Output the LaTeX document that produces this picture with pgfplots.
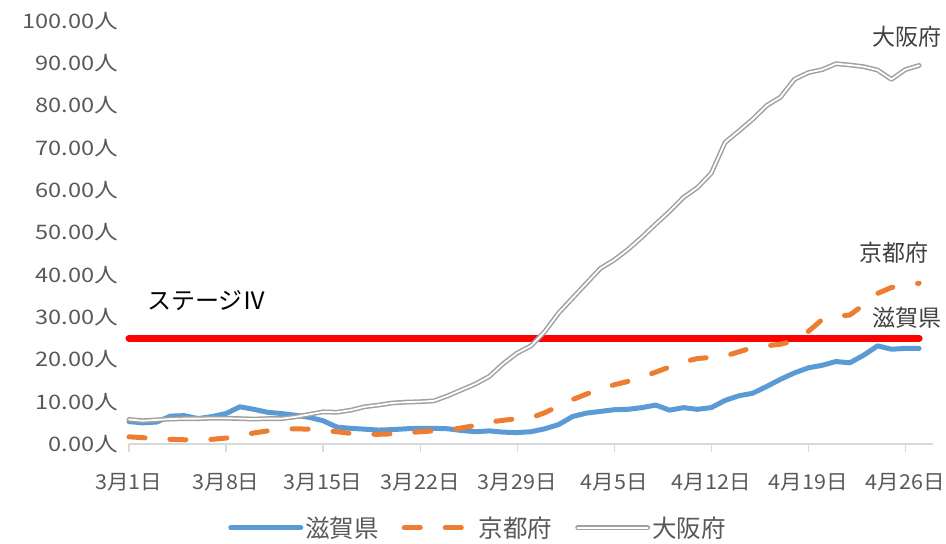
\documentclass[border=0pt]{standalone}
\usepackage{pgfplots}
\pgfplotsset{compat=1.18}
\usepackage{fontspec}
\setmainfont{Noto Sans CJK JP}
\newfontfamily\ytickfont[FakeStretch=1.18]{Noto Sans CJK JP}
\newfontfamily\xtickfont[FakeStretch=1.05]{Noto Sans CJK JP}
\definecolor{sblue}{HTML}{5B9BD5}
\definecolor{korange}{HTML}{ED7D31}
\definecolor{ogray}{HTML}{A0A0A0}
\definecolor{axgray}{HTML}{D9D9D9}
\definecolor{txgray}{HTML}{595959}
\definecolor{lbgray}{HTML}{404040}
\begin{document}
\begin{tikzpicture}
\useasboundingbox (-129bp,-100bp) rectangle (817bp,444bp);
\begin{axis}[
    scale only axis,
    width=804bp, height=423bp,
    xmin=0, xmax=58,
    ymin=0, ymax=100,
    clip=false,
    axis x line*=bottom,
    axis y line*=left,
    y axis line style={draw=none},
    x axis line style={draw=axgray, line width=1.2bp},
    xtick={0,7,14,21,28,35,42,49,56},
    xticklabels={3月1日,3月8日,3月15日,3月22日,3月29日,4月5日,4月12日,4月19日,4月26日},
    ytick={0,10,20,30,40,50,60,70,80,90,100},
    yticklabels={0.00人,10.00人,20.00人,30.00人,40.00人,50.00人,60.00人,70.00人,80.00人,90.00人,100.00人},
    tick align=outside,
    major tick length=8bp,
    xtick style={draw=axgray, line width=1.2bp},
    ytick style={draw=none},
    yticklabel style={font=\ytickfont\fontsize{20bp}{22bp}\selectfont, text=txgray,
        inner sep=0pt, xshift=-3bp},
    xticklabel style={font=\xtickfont\fontsize{20.5bp}{22bp}\selectfont, text=txgray,
        inner sep=0pt, yshift=-21bp},
    legend columns=3,
    legend style={at={(0.434,-0.198)}, anchor=center, draw=none,
        font=\fontsize{24.5bp}{27bp}\selectfont, text=txgray,
        /tikz/every even column/.append style={column sep=21bp}},
    legend image code/.code={\draw[#1] (0bp,0bp) -- (70bp,0bp);},
]
% stage IV level
\addplot[forget plot, color=red, line width=7bp, line cap=round]
    coordinates {(0,25) (57,25)};
% Shiga
\addplot[color=sblue, line width=5bp, line cap=round, line join=round]
    coordinates {
    (0,5.3)(1,5.0)(2,5.2)(3,6.6)(4,6.7)(5,6.0)(6,6.5)(7,7.2)(8,8.8)(9,8.2)
    (10,7.5)(11,7.2)(12,6.8)(13,6.3)(14,5.5)(15,4.0)(16,3.7)(17,3.5)(18,3.3)(19,3.4)
    (20,3.6)(21,3.7)(22,3.7)(23,3.6)(24,3.2)(25,2.9)(26,3.1)(27,2.8)(28,2.7)(29,2.9)
    (30,3.6)(31,4.6)(32,6.5)(33,7.3)(34,7.7)(35,8.1)(36,8.2)(37,8.6)(38,9.2)(39,8.0)
    (40,8.6)(41,8.2)(42,8.6)(43,10.3)(44,11.4)(45,12.0)(46,13.6)(47,15.3)(48,16.8)(49,18.0)
    (50,18.6)(51,19.5)(52,19.2)(53,21.0)(54,23.2)(55,22.4)(56,22.6)(57,22.6)
    };
% Kyoto
\addplot[color=korange, line width=5bp, line cap=round, line join=round,
    dash pattern=on 16bp off 25bp]
    coordinates {
    (0,1.7)(1,1.5)(2,1.2)(3,1.1)(4,1.0)(5,1.0)(6,1.1)(7,1.4)(8,2.0)(9,2.6)
    (10,3.1)(11,3.4)(12,3.6)(13,3.5)(14,3.2)(15,2.9)(16,2.5)(17,2.3)(18,2.3)(19,2.4)
    (20,2.6)(21,2.9)(22,3.1)(23,3.3)(24,3.8)(25,4.4)(26,5.2)(27,5.6)(28,6.0)(29,6.2)
    (30,7.4)(31,9.0)(32,10.5)(33,11.8)(34,13.0)(35,14.0)(36,14.8)(37,15.8)(38,17.0)(39,18.2)
    (40,19.4)(41,20.2)(42,20.5)(43,20.8)(44,21.8)(45,22.8)(46,23.2)(47,23.6)(48,24.4)(49,26.6)
    (50,29.4)(51,30.2)(52,30.5)(53,32.9)(54,35.6)(55,37.0)(56,37.6)(57,38.0)
    };
% Osaka
\addplot[draw=ogray, line width=1.5bp, double=white, double distance=1.8bp,
    line cap=round, line join=round]
    coordinates {
    (0,5.8)(1,5.5)(2,5.7)(3,5.9)(4,6.0)(5,6.0)(6,6.1)(7,6.1)(8,6.0)(9,5.9)
    (10,6.0)(11,6.0)(12,6.4)(13,7.0)(14,7.6)(15,7.5)(16,8.0)(17,8.8)(18,9.2)(19,9.7)
    (20,9.9)(21,10.0)(22,10.2)(23,11.4)(24,12.8)(25,14.2)(26,16.0)(27,19.0)(28,21.5)(29,23.2)
    (30,26.6)(31,31.0)(32,34.5)(33,38.0)(34,41.5)(35,43.5)(36,46.0)(37,48.9)(38,52.0)(39,55.0)
    (40,58.3)(41,60.6)(42,64.0)(43,71.3)(44,74.0)(45,76.8)(46,80.0)(47,82.0)(48,86.2)(49,87.8)
    (50,88.5)(51,89.9)(52,89.6)(53,89.2)(54,88.4)(55,86.2)(56,88.5)(57,89.5)
    };
\legend{滋賀県,京都府,大阪府}
\node[text=lbgray, font=\fontsize{23bp}{26bp}\selectfont] at (axis cs:56.1,96.2) {大阪府};
\node[text=lbgray, font=\fontsize{23bp}{26bp}\selectfont] at (axis cs:55.2,45.2) {京都府};
\node[text=lbgray, font=\fontsize{23bp}{26bp}\selectfont] at (axis cs:56.1,29.8) {滋賀県};
\node[anchor=west, inner sep=0pt, text=black, font=\fontsize{24bp}{28bp}\selectfont] at (axis cs:1.3,34.0) {ステージⅣ};
\end{axis}
\end{tikzpicture}
\end{document}
